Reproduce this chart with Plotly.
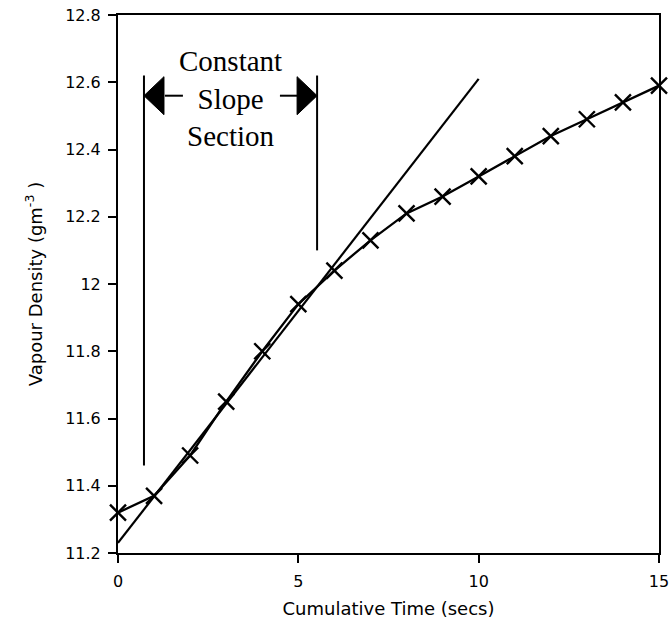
import plotly.graph_objects as go

# Measured data
time_s = [0, 1, 2, 3, 4, 5, 6, 7, 8, 9, 10, 11, 12, 13, 14, 15]
vapour_density = [11.32, 11.37, 11.49, 11.65, 11.80, 11.94, 12.04, 12.13, 12.21,
                  12.26, 12.32, 12.38, 12.44, 12.49, 12.54, 12.59]

# Tangent (constant slope) line end points
tangent_t = [0, 10]
tangent_v = [11.23, 12.61]

# Bounds of the constant slope section
section_left_t = [0.72, 0.72]
section_left_v = [11.46, 12.62]
section_right_t = [5.52, 5.52]
section_right_v = [12.10, 12.62]

y_ticks = [11.2, 11.4, 11.6, 11.8, 12.0, 12.2, 12.4, 12.6, 12.8]
y_tick_text = ["11.2", "11.4", "11.6", "11.8", "12", "12.2", "12.4", "12.6", "12.8"]
x_ticks = [0, 5, 10, 15]
x_tick_text = ["0", "5", "10", "15"]

arrow_y = 12.56
arrow_left_shaft = [1.30, 1.80]
arrow_right_shaft = [4.49, 4.99]

BLACK = "#000000"
SANS = "DejaVu Sans, Arial, sans-serif"
fig = go.Figure()

fig.add_trace(go.Scatter(x=tangent_t, y=tangent_v, mode="lines",
                         line=dict(color=BLACK, width=2.2), showlegend=False))
fig.add_trace(go.Scatter(x=section_left_t, y=section_left_v, mode="lines",
                         line=dict(color=BLACK, width=2), showlegend=False))
fig.add_trace(go.Scatter(x=section_right_t, y=section_right_v, mode="lines",
                         line=dict(color=BLACK, width=2), showlegend=False))
fig.add_trace(go.Scatter(x=arrow_left_shaft, y=[arrow_y, arrow_y], mode="lines",
                         line=dict(color=BLACK, width=2), showlegend=False))
fig.add_trace(go.Scatter(x=arrow_right_shaft, y=[arrow_y, arrow_y], mode="lines",
                         line=dict(color=BLACK, width=2), showlegend=False))
fig.add_trace(go.Scatter(x=time_s, y=vapour_density, mode="lines+markers",
                         line=dict(color=BLACK, width=2.3),
                         marker=dict(symbol="x-thin-open", size=16,
                                     line=dict(color=BLACK, width=2.4)),
                         cliponaxis=False, showlegend=False))

# Filled arrowheads (pixel-sized paths anchored at the vertical lines)
fig.add_shape(type="path", xref="x", yref="y", xsizemode="pixel", ysizemode="pixel",
              xanchor=section_left_t[0], yanchor=arrow_y,
              path="M 0 0 L 20 19 L 20 -19 Z",
              fillcolor=BLACK, line=dict(color=BLACK, width=1))
fig.add_shape(type="path", xref="x", yref="y", xsizemode="pixel", ysizemode="pixel",
              xanchor=section_right_t[0], yanchor=arrow_y,
              path="M 0 0 L -20 19 L -20 -19 Z",
              fillcolor=BLACK, line=dict(color=BLACK, width=1))

fig.add_annotation(x=3.13, y=12.553, xref="x", yref="y",
                   text="Constant<br>Slope<br>Section", showarrow=False,
                   font=dict(family="Liberation Serif, Times New Roman, serif",
                             size=29, color=BLACK),
                   align="center", xanchor="center", yanchor="middle")

axis_common = dict(showline=True, linecolor=BLACK, linewidth=2, mirror=True,
                   ticks="outside", tickcolor=BLACK, tickwidth=2, ticklen=8,
                   showgrid=False, zeroline=False,
                   tickfont=dict(family=SANS, size=16, color=BLACK))

fig.update_xaxes(range=[0, 15], tickvals=x_ticks, ticktext=x_tick_text,
                 ticklabelstandoff=5,
                 title=dict(text="Cumulative Time (secs)", standoff=12,
                            font=dict(family=SANS, size=18, color=BLACK)),
                 **axis_common)
fig.update_yaxes(range=[11.2, 12.8], tickvals=y_ticks, ticktext=y_tick_text,
                 ticklabelstandoff=4,
                 title=dict(text="Vapour Density (gm<sup>-3</sup> )", standoff=18,
                            font=dict(family=SANS, size=18, color=BLACK)),
                 **axis_common)

fig.update_layout(width=670, height=632, plot_bgcolor="white", paper_bgcolor="white",
                  margin=dict(l=118, r=11, t=15, b=79, autoexpand=False),
                  showlegend=False)

fig.write_html("out.html")
